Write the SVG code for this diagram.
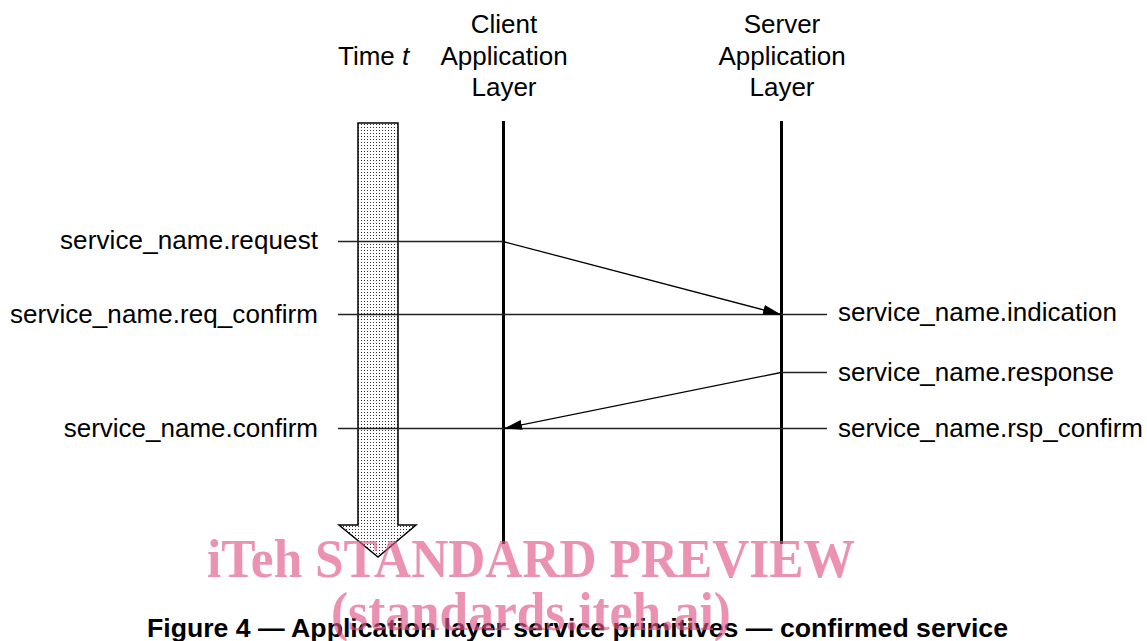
<svg xmlns="http://www.w3.org/2000/svg" width="1147" height="641" viewBox="0 0 1147 641">
  <style>
    .lbl { font-family: "Liberation Sans", Arial, sans-serif; font-size: 26px; fill: #000; }
    .cap { font-family: "Liberation Sans", Arial, sans-serif; font-size: 25px; font-weight: bold; fill: #000; }
    .wm { font-family: "Liberation Serif", "Times New Roman", serif; font-weight: bold; fill: #e0578a; fill-opacity: 0.65; }
    .life { stroke: #000; stroke-width: 3; fill: none; }
    .tick { stroke: #222; stroke-width: 1.3; fill: none; }
    .msg { stroke: #000; stroke-width: 1.3; fill: none; marker-end: url(#head); }
  </style>
  <defs>
    <pattern id="stipple" width="3" height="3" patternUnits="userSpaceOnUse">
      <rect width="3" height="3" fill="#fff"/>
      <rect x="1" y="1" width="1" height="1" fill="#333"/>
    </pattern>
    <marker id="head" viewBox="0 0 18 10" refX="18" refY="5" markerWidth="18" markerHeight="10" markerUnits="userSpaceOnUse" orient="auto">
      <path d="M0,0 L18,5 L0,10 Z" fill="#000"/>
    </marker>
  </defs>
  <rect width="1147" height="641" fill="#fff"/>

  <!-- time axis -->
  <g id="time-axis">
    <path d="M358,123 H398 V525 H416 L378,557 L339,525 H358 Z" fill="url(#stipple)" stroke="#000" stroke-width="1.5"/>
    <text class="lbl" x="338" y="65">Time <tspan font-style="italic">t</tspan></text>
  </g>

  <!-- client lifeline -->
  <g id="client">
    <line class="life" x1="503.5" y1="121" x2="503.5" y2="544"/>
    <text class="lbl" text-anchor="middle" x="504" y="33">Client</text>
    <text class="lbl" text-anchor="middle" x="504" y="65">Application</text>
    <text class="lbl" text-anchor="middle" x="504" y="96">Layer</text>
  </g>

  <!-- server lifeline -->
  <g id="server">
    <line class="life" x1="781.5" y1="121" x2="781.5" y2="544"/>
    <text class="lbl" text-anchor="middle" x="782" y="33">Server</text>
    <text class="lbl" text-anchor="middle" x="782" y="65">Application</text>
    <text class="lbl" text-anchor="middle" x="782" y="96">Layer</text>
  </g>

  <!-- primitive labels -->
  <g id="primitives-client">
    <text class="lbl" text-anchor="end" x="318" y="249" textLength="258">service_name.request</text>
    <text class="lbl" text-anchor="end" x="318" y="323" textLength="308">service_name.req_confirm</text>
    <text class="lbl" text-anchor="end" x="318" y="437">service_name.confirm</text>
  </g>
  <g id="primitives-server">
    <text class="lbl" x="838" y="321">service_name.indication</text>
    <text class="lbl" x="838" y="381">service_name.response</text>
    <text class="lbl" x="838" y="437" textLength="305">service_name.rsp_confirm</text>
  </g>

  <!-- connectors -->
  <g id="connectors">
    <line class="tick" x1="338" y1="241.5" x2="503" y2="241.5"/>
    <line class="tick" x1="338" y1="314.5" x2="827" y2="314.5"/>
    <line class="tick" x1="781" y1="372.5" x2="827" y2="372.5"/>
    <line class="tick" x1="338" y1="428.5" x2="827" y2="428.5"/>
    <line class="msg" x1="503" y1="241.5" x2="781" y2="314.5"/>
    <line class="msg" x1="781" y1="372.5" x2="504" y2="428.5"/>
  </g>

  <!-- caption -->
  <text class="cap" x="147" y="637" textLength="861" lengthAdjust="spacingAndGlyphs">Figure 4 — Application layer service primitives — confirmed service</text>

  <!-- watermark -->
  <g id="watermark">
    <text class="wm" x="207" y="577" font-size="54" textLength="648" lengthAdjust="spacingAndGlyphs">iTeh STANDARD PREVIEW</text>
    <text class="wm" x="331" y="630" font-size="54" textLength="400" lengthAdjust="spacingAndGlyphs">(standards.iteh.ai)</text>
  </g>
</svg>
